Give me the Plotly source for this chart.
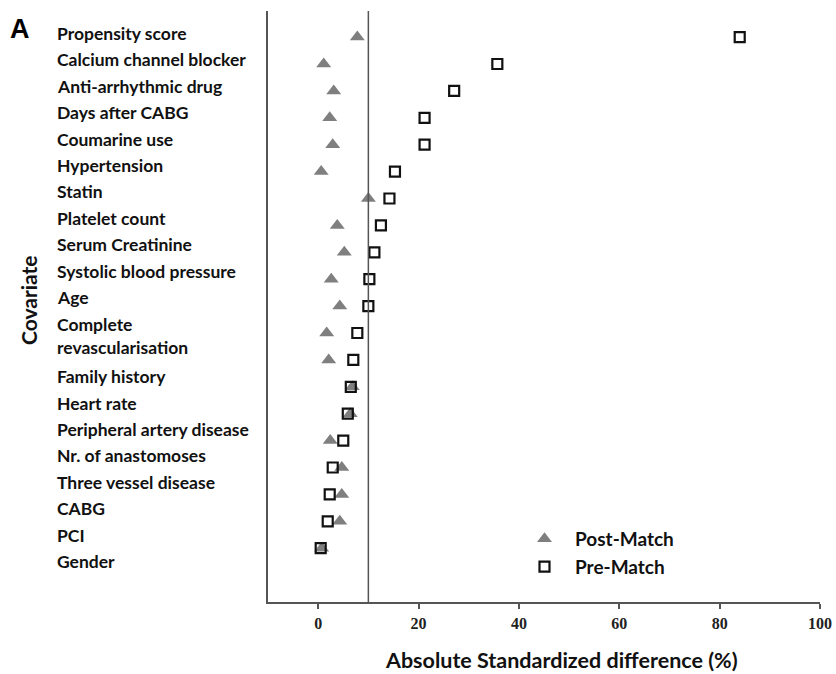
import plotly.graph_objects as go

covariates = ["Propensity score", "Calcium channel blocker", "Anti-arrhythmic drug",
              "Days after CABG", "Coumarine use", "Hypertension", "Statin",
              "Platelet count", "Serum Creatinine", "Systolic blood pressure", "Age",
              "Complete<br>revascularisation", "Family history", "Heart rate",
              "Peripheral artery disease", "Nr. of anastomoses", "Three vessel disease",
              "CABG", "PCI", "Gender"]
post_match = [7.8, 1.1, 3.1, 2.3, 2.9, 0.6, 10.0, 3.8, 5.2, 2.6, 4.3,
              1.7, 2.1, 6.8, 6.4, 2.4, 4.7, 4.7, 4.3, 0.7]
pre_match = [84.0, 35.7, 27.1, 21.2, 21.2, 15.3, 14.2, 12.5, 11.2, 10.2, 10.0,
             7.8, 7.0, 6.5, 5.9, 5.0, 2.9, 2.3, 1.9, 0.5]
x_ticks = [0, 20, 40, 60, 80, 100]
threshold = 10

W, H = 836, 674
L, R, T, B = 268, 16, 11, 72
ph = H - T - B
pw = W - L - R

rows = list(range(len(covariates)))

fig = go.Figure()
fig.add_trace(go.Scatter(
    x=post_match, y=rows, mode="markers", name="Post-Match",
    marker=dict(symbol="triangle-up", size=13, color="#7f7f7f", line=dict(width=0)),
))
fig.add_trace(go.Scatter(
    x=pre_match, y=rows, mode="markers", name="Pre-Match",
    marker=dict(symbol="square-open", size=10, color="#111111", line=dict(width=2.2, color="#111111")),
))

fig.add_shape(type="line", xref="x", yref="paper", x0=threshold, x1=threshold, y0=0, y1=1,
              line=dict(color="#555555", width=1.5))

# Left-aligned covariate labels laid out line by line
font_lbl = "Lato, 'Open Sans', sans-serif"
line_h = 26.4
top_px = 33.5
cum = 0
for i, lab in enumerate(covariates):
    n = lab.count("<br>") + 1
    if n == 1:
        center = top_px + cum * line_h
    else:
        center = top_px + (cum + (n - 1) / 2) * line_h - 1.5
    cum += n
    fig.add_annotation(text=lab, xref="paper", yref="paper",
                       x=(55 - L) / pw, y=1 - (center - T) / ph,
                       xanchor="left", yanchor="middle", align="left",
                       showarrow=False,
                       font=dict(family=font_lbl, size=17.5, color="#111111", weight="bold"))

fig.add_annotation(text="Covariate", xref="paper", yref="paper",
                   x=(28 - L) / pw, y=1 - (300 - T) / ph, textangle=-90,
                   xanchor="center", yanchor="middle", showarrow=False,
                   font=dict(family=font_lbl, size=21, color="#111111", weight="bold"))
fig.add_annotation(text="A", xref="paper", yref="paper",
                   x=(20 - L) / pw, y=1 - (29 - T) / ph,
                   xanchor="center", yanchor="middle", showarrow=False,
                   font=dict(family="Liberation Sans, Arial, sans-serif", size=27, color="#000000", weight="bold"))
fig.add_annotation(text="Absolute Standardized difference (%)", xref="paper", yref="paper",
                   x=(561 - L) / pw, y=1 - (660 - T) / ph,
                   xanchor="center", yanchor="middle", showarrow=False,
                   font=dict(family=font_lbl, size=21.5, color="#111111", weight="bold"))

fig.update_layout(
    width=W, height=H,
    margin=dict(l=L, r=R, t=T, b=B),
    paper_bgcolor="white", plot_bgcolor="white",
    showlegend=True,
    legend=dict(x=(514 - L) / pw, y=1 - (520 - T) / ph, xanchor="left", yanchor="top",
                bgcolor="rgba(0,0,0,0)",
                font=dict(family=font_lbl, size=19, color="#111111", weight="bold"),
                itemwidth=51, tracegroupgap=0),
    xaxis=dict(range=[-10, 100], tickvals=x_ticks, showgrid=False, zeroline=False,
               automargin=False,
               showline=True, linecolor="#555555", linewidth=1.5,
               ticks="outside", ticklen=5, tickcolor="#555555", tickwidth=1.5,
               ticklabelstandoff=1,
               tickfont=dict(family="Liberation Serif, Times New Roman, serif", size=16,
                             color="#222222", weight="bold")),
    yaxis=dict(range=[21.0, -0.97], showticklabels=False, showgrid=False, zeroline=False,
               automargin=False,
               showline=True, linecolor="#555555", linewidth=1.5, ticks=""),
)

fig.write_html("out.html", config={"displayModeBar": False},
               post_script="document.body.style.margin='0';document.body.style.padding='0';")
